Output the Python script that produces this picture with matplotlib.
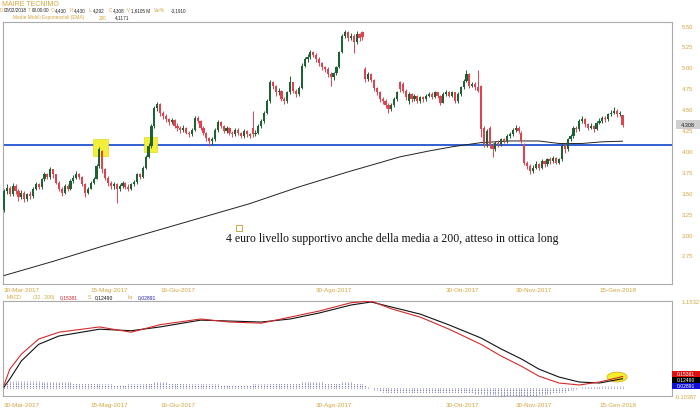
import numpy as np
import matplotlib
matplotlib.use("Agg")
import matplotlib.pyplot as plt
from matplotlib.patches import Rectangle, Ellipse

# ---------------- data ----------------
opens = [3.30, 3.52, 3.56, 3.48, 3.58, 3.52, 3.45, 3.50, 3.42, 3.48,
         3.46, 3.55, 3.60, 3.57, 3.66, 3.72, 3.69, 3.78, 3.72, 3.62,
         3.55, 3.50, 3.58, 3.54, 3.64, 3.68, 3.73, 3.69, 3.61, 3.50,
         3.55, 3.62, 3.67, 3.82, 4.00, 3.78, 3.68, 3.62, 3.58, 3.61,
         3.55, 3.58, 3.62, 3.57, 3.55, 3.60, 3.63, 3.72, 3.69, 3.80,
         3.93, 4.06, 4.30, 4.52, 4.56, 4.45, 4.42, 4.38, 4.35, 4.37,
         4.30, 4.28, 4.25, 4.28, 4.22, 4.20, 4.25, 4.40, 4.36, 4.28,
         4.22, 4.15, 4.12, 4.14, 4.25, 4.35, 4.30, 4.24, 4.28, 4.22,
         4.20, 4.25, 4.22, 4.18, 4.24, 4.20, 4.28, 4.20, 4.22, 4.30,
         4.36, 4.46, 4.60, 4.82, 4.78, 4.70, 4.72, 4.62, 4.60, 4.70,
         4.82, 4.72, 4.68, 4.75, 5.02, 5.10, 5.12, 5.18, 5.15, 5.10,
         5.05, 5.00, 4.98, 4.92, 4.88, 4.93, 5.00, 5.18, 5.38, 5.42,
         5.35, 5.38, 5.30, 5.40, 5.42, 4.98, 4.86, 4.92, 4.85, 4.75,
         4.70, 4.62, 4.60, 4.55, 4.50, 4.55, 4.62, 4.82, 4.80, 4.72,
         4.60, 4.68, 4.62, 4.66, 4.60, 4.64, 4.62, 4.66, 4.68, 4.65,
         4.70, 4.66, 4.58, 4.68, 4.70, 4.66, 4.70, 4.60, 4.68, 4.76,
         4.84, 4.92, 4.78, 4.80, 4.76, 4.78, 4.28, 4.08, 4.28, 4.06,
         4.02, 4.10, 4.08, 4.14, 4.12, 4.18, 4.20, 4.25, 4.28, 4.22,
         4.08, 3.86, 3.82, 3.76, 3.80, 3.85, 3.80, 3.88, 3.84, 3.90,
         3.88, 3.92, 3.86, 3.90, 4.06, 4.02, 4.14, 4.18, 4.28, 4.26,
         4.36, 4.38, 4.32, 4.28, 4.30, 4.26, 4.34, 4.36, 4.40, 4.38,
         4.44, 4.46, 4.48, 4.44, 4.43]
highs = [3.54, 3.60, 3.58, 3.62, 3.60, 3.54, 3.53, 3.52, 3.50, 3.52,
         3.57, 3.63, 3.62, 3.68, 3.75, 3.74, 3.81, 3.79, 3.73, 3.64,
         3.57, 3.60, 3.60, 3.66, 3.71, 3.76, 3.74, 3.70, 3.62, 3.57,
         3.64, 3.69, 3.84, 4.05, 4.01, 3.80, 3.70, 3.64, 3.63, 3.62,
         3.60, 3.64, 3.63, 3.60, 3.62, 3.65, 3.74, 3.74, 3.82, 3.95,
         4.09, 4.32, 4.54, 4.59, 4.57, 4.48, 4.44, 4.40, 4.40, 4.38,
         4.33, 4.30, 4.31, 4.29, 4.24, 4.27, 4.42, 4.42, 4.37, 4.30,
         4.23, 4.17, 4.17, 4.27, 4.37, 4.36, 4.31, 4.30, 4.29, 4.24,
         4.27, 4.27, 4.23, 4.26, 4.25, 4.22, 4.48, 4.25, 4.32, 4.38,
         4.48, 4.62, 4.85, 4.84, 4.79, 4.75, 4.73, 4.64, 4.72, 4.90,
         4.83, 4.74, 4.78, 5.05, 5.13, 5.16, 5.21, 5.20, 5.17, 5.12,
         5.07, 5.02, 5.00, 4.94, 4.95, 5.02, 5.20, 5.40, 5.45, 5.43,
         5.41, 5.40, 5.43, 5.41, 5.44, 5.00, 4.95, 4.93, 4.86, 4.77,
         4.72, 4.65, 4.62, 4.57, 4.57, 4.64, 4.72, 4.84, 4.82, 4.74,
         4.70, 4.69, 4.68, 4.67, 4.66, 4.66, 4.68, 4.71, 4.70, 4.72,
         4.71, 4.67, 4.70, 4.73, 4.72, 4.72, 4.71, 4.70, 4.78, 4.86,
         4.97, 4.93, 4.83, 4.82, 4.97, 4.79, 4.30, 4.26, 4.30, 4.10,
         4.12, 4.13, 4.16, 4.16, 4.20, 4.23, 4.27, 4.31, 4.30, 4.24,
         4.10, 3.88, 3.84, 3.83, 3.88, 3.86, 3.90, 3.89, 3.92, 3.93,
         3.94, 3.93, 3.92, 4.08, 4.10, 4.16, 4.20, 4.30, 4.30, 4.38,
         4.42, 4.39, 4.34, 4.33, 4.31, 4.36, 4.39, 4.42, 4.42, 4.46,
         4.49, 4.53, 4.50, 4.48, 4.43]
lows = [3.27, 3.48, 3.46, 3.46, 3.48, 3.40, 3.42, 3.39, 3.40, 3.43,
        3.44, 3.53, 3.54, 3.55, 3.64, 3.66, 3.67, 3.68, 3.60, 3.52,
        3.46, 3.48, 3.52, 3.53, 3.62, 3.66, 3.66, 3.58, 3.45, 3.48,
        3.54, 3.60, 3.66, 3.80, 3.74, 3.65, 3.58, 3.55, 3.54, 3.38,
        3.52, 3.56, 3.55, 3.52, 3.53, 3.58, 3.61, 3.66, 3.68, 3.78,
        3.92, 4.04, 4.28, 4.48, 4.42, 4.38, 4.35, 4.31, 4.32, 4.27,
        4.24, 4.22, 4.23, 4.20, 4.17, 4.18, 4.24, 4.33, 4.25, 4.19,
        4.12, 4.06, 4.07, 4.12, 4.23, 4.27, 4.21, 4.22, 4.19, 4.17,
        4.18, 4.19, 4.15, 4.16, 4.17, 4.15, 4.17, 4.18, 4.20, 4.28,
        4.34, 4.44, 4.58, 4.74, 4.66, 4.67, 4.60, 4.56, 4.58, 4.68,
        4.69, 4.65, 4.66, 4.74, 5.00, 5.07, 5.10, 5.12, 5.07, 5.02,
        4.97, 4.94, 4.89, 4.78, 4.85, 4.91, 4.99, 5.17, 5.35, 5.32,
        5.33, 5.17, 5.28, 5.32, 5.33, 4.82, 4.84, 4.82, 4.72, 4.67,
        4.59, 4.56, 4.52, 4.46, 4.48, 4.53, 4.60, 4.71, 4.69, 4.61,
        4.56, 4.59, 4.60, 4.57, 4.58, 4.59, 4.60, 4.64, 4.62, 4.63,
        4.63, 4.55, 4.57, 4.66, 4.64, 4.64, 4.57, 4.58, 4.66, 4.74,
        4.82, 4.75, 4.76, 4.73, 4.70, 4.17, 4.05, 4.05, 4.03, 3.93,
        4.00, 4.05, 4.06, 4.09, 4.10, 4.16, 4.18, 4.23, 4.21, 4.09,
        3.83, 3.78, 3.72, 3.74, 3.78, 3.77, 3.78, 3.81, 3.82, 3.85,
        3.86, 3.84, 3.84, 3.88, 3.98, 4.00, 4.12, 4.16, 4.23, 4.24,
        4.33, 4.29, 4.25, 4.26, 4.23, 4.25, 4.32, 4.34, 4.35, 4.36,
        4.42, 4.44, 4.41, 4.42, 4.292]
closes = [3.52, 3.56, 3.48, 3.58, 3.52, 3.45, 3.50, 3.42, 3.48, 3.46,
          3.55, 3.60, 3.57, 3.66, 3.72, 3.69, 3.78, 3.72, 3.62, 3.55,
          3.50, 3.58, 3.54, 3.64, 3.68, 3.73, 3.69, 3.61, 3.50, 3.55,
          3.62, 3.67, 3.82, 4.02, 3.78, 3.68, 3.62, 3.58, 3.61, 3.55,
          3.58, 3.62, 3.57, 3.55, 3.60, 3.63, 3.72, 3.69, 3.80, 3.93,
          4.06, 4.30, 4.52, 4.56, 4.45, 4.42, 4.38, 4.35, 4.37, 4.30,
          4.28, 4.25, 4.28, 4.22, 4.20, 4.25, 4.40, 4.36, 4.28, 4.22,
          4.15, 4.12, 4.14, 4.25, 4.35, 4.30, 4.24, 4.28, 4.22, 4.20,
          4.25, 4.22, 4.18, 4.24, 4.20, 4.18, 4.20, 4.22, 4.30, 4.36,
          4.46, 4.60, 4.82, 4.78, 4.70, 4.72, 4.62, 4.60, 4.70, 4.82,
          4.72, 4.68, 4.75, 5.02, 5.10, 5.12, 5.18, 5.15, 5.10, 5.05,
          5.00, 4.98, 4.92, 4.88, 4.93, 5.00, 5.18, 5.38, 5.42, 5.35,
          5.38, 5.30, 5.40, 5.35, 5.36, 4.86, 4.92, 4.85, 4.75, 4.70,
          4.62, 4.60, 4.55, 4.50, 4.55, 4.62, 4.70, 4.74, 4.72, 4.64,
          4.68, 4.62, 4.66, 4.60, 4.64, 4.62, 4.66, 4.68, 4.65, 4.70,
          4.66, 4.58, 4.68, 4.70, 4.66, 4.70, 4.60, 4.68, 4.76, 4.84,
          4.92, 4.78, 4.80, 4.76, 4.72, 4.26, 4.08, 4.24, 4.06, 4.02,
          4.10, 4.08, 4.14, 4.12, 4.18, 4.20, 4.25, 4.28, 4.24, 4.12,
          3.86, 3.82, 3.76, 3.80, 3.85, 3.80, 3.88, 3.84, 3.90, 3.88,
          3.92, 3.86, 3.90, 4.06, 4.02, 4.14, 4.18, 4.28, 4.26, 4.36,
          4.38, 4.32, 4.28, 4.30, 4.26, 4.34, 4.36, 4.40, 4.38, 4.44,
          4.46, 4.48, 4.44, 4.45, 4.308]

# EMA 200 (bar index, value)
ema_idx = [0, 17, 34, 51, 68, 85, 102, 119, 137, 147, 155, 165, 175, 185, 192, 200, 207, 214]
ema_val = [2.51, 2.68, 2.86, 3.03, 3.20, 3.37, 3.57, 3.75, 3.93, 4.00, 4.05, 4.10, 4.12, 4.12, 4.09, 4.09, 4.11, 4.1171]

support_level = 4.07

# MACD (32, 200), signal line (bar index, value) and histogram (one per bar)
macd_idx = [0, 2, 6, 12, 19, 33, 44, 54, 68, 78, 89, 99, 109, 120, 127, 134, 144, 154, 165, 172, 179, 185, 192, 199, 206, 214]
macd_val = [0.04, 0.25, 0.45, 0.65, 0.74, 0.81, 0.74, 0.84, 0.915, 0.875, 0.86, 0.94, 1.02, 1.13, 1.153, 1.05,
            0.94, 0.78, 0.58, 0.425, 0.29, 0.16, 0.068, 0.042, 0.081, 0.15381]
signal_val = [0.015, 0.12, 0.36, 0.58, 0.69, 0.78, 0.76, 0.81, 0.90, 0.888, 0.875, 0.915, 0.994, 1.10, 1.14, 1.074,
              0.98, 0.836, 0.664, 0.518, 0.386, 0.253, 0.147, 0.081, 0.068, 0.1249]
hist_val = [0.04, 0.07, 0.09, 0.10, 0.10, 0.10, 0.10, 0.10, 0.10, 0.09,
            0.09, 0.09, 0.09, 0.08, 0.08, 0.08, 0.08, 0.08, 0.08, 0.08,
            0.08, 0.08, 0.08, 0.08, 0.07, 0.07, 0.07, 0.07, 0.07, 0.07,
            0.07, 0.07, 0.07, 0.06, 0.06, 0.05, 0.05, 0.05, 0.04, 0.04,
            0.04, 0.04, 0.04, 0.05, 0.05, 0.05, 0.06, 0.06, 0.06, 0.07,
            0.07, 0.07, 0.08, 0.08, 0.08, 0.08, 0.08, 0.07, 0.07, 0.07,
            0.07, 0.07, 0.07, 0.07, 0.06, 0.06, 0.06, 0.06, 0.06, 0.06,
            0.05, 0.05, 0.05, 0.05, 0.05, 0.04, 0.04, 0.04, 0.04, 0.04,
            0.04, 0.04, 0.04, 0.04, 0.04, 0.04, 0.05, 0.05, 0.05, 0.05,
            0.06, 0.06, 0.07, 0.07, 0.07, 0.07, 0.07, 0.07, 0.07, 0.07,
            0.07, 0.07, 0.07, 0.08, 0.08, 0.08, 0.08, 0.08, 0.08, 0.08,
            0.08, 0.07, 0.07, 0.07, 0.07, 0.07, 0.07, 0.08, 0.08, 0.08,
            0.08, 0.07, 0.07, 0.06, 0.05, 0.04, 0.02, 0.00, -0.02, -0.03,
            -0.04, -0.05, -0.05, -0.06, -0.06, -0.06, -0.07, -0.07, -0.07, -0.07,
            -0.07, -0.07, -0.07, -0.07, -0.07, -0.07, -0.07, -0.07, -0.07, -0.07,
            -0.07, -0.07, -0.07, -0.07, -0.07, -0.07, -0.07, -0.07, -0.07, -0.07,
            -0.07, -0.07, -0.07, -0.08, -0.08, -0.08, -0.09, -0.09, -0.09, -0.09,
            -0.09, -0.09, -0.10, -0.10, -0.10, -0.10, -0.10, -0.10, -0.10, -0.10,
            -0.10, -0.10, -0.10, -0.10, -0.10, -0.09, -0.09, -0.09, -0.08, -0.08,
            -0.07, -0.07, -0.06, -0.05, -0.05, -0.04, -0.03, -0.02, -0.01, 0.00,
            0.01, 0.01, 0.02, 0.02, 0.02, 0.02, 0.02, 0.03, 0.03, 0.03,
            0.03, 0.03, 0.03, 0.03, 0.02891]

date_pos = [0, 30, 54, 108, 153, 177, 206]
date_labels = ["30-Mar-2017", "15-Mag-2017", "16-Giu-2017", "30-Ago-2017",
               "30-Ott-2017", "30-Nov-2017", "15-Gen-2018"]
price_ticks = [2.75, 3.00, 3.25, 3.50, 3.75, 4.00, 4.25, 4.50, 4.75, 5.00, 5.25, 5.50]
last_close = 4.308
macd_last, signal_last, hist_last = 0.15381, 0.12490, 0.02891
macd_min, macd_max = -0.10387, 1.1532

# ---------------- style ----------------
GOLD = "#d3a53e"
UP = "#1c6232"
DOWN = "#e2424f"
FRAME = "#aaaaaa"
plt.rcParams["font.family"] = ["Liberation Sans", "DejaVu Sans"]

W, H = 700, 414
fig = plt.figure(figsize=(7, 4.14), dpi=100)
fig.patch.set_facecolor("white")


def fx(px):
    return px / W


def fy(py):
    return 1 - py / H


ax = fig.add_axes([fx(3), fy(285), fx(672) - fx(3), fy(23) - fy(285)])
axm = fig.add_axes([fx(3), fy(397), fx(672) - fx(3), fy(302) - fy(397)], sharex=ax)

n = len(closes)
idx = np.arange(n)
o = np.array(opens)
c = np.array(closes)
hi = np.array(highs)
lo = np.array(lows)
up = c >= o
cols = np.where(up, UP, DOWN)

# candles
ax.vlines(idx, lo, hi, colors=cols, linewidth=0.7, zorder=4)
body_bottom = np.minimum(o, c)
body_h = np.maximum(np.abs(c - o), 0.008)
ax.bar(idx, body_h, bottom=body_bottom, width=0.75, color=cols, linewidth=0, zorder=5)

# EMA 200
ax.plot(ema_idx, ema_val, color="#222222", linewidth=0.7, zorder=3)

# support line
ax.axhline(support_level, color="#2f5fd3", linewidth=1.4, zorder=2)

# highlight boxes on the touches of the level
for (x0, x1, y0, y1) in [(30.8, 36.0, 3.94, 4.145), (48.4, 52.9, 3.99, 4.167)]:
    ax.add_patch(Rectangle((x0, y0), x1 - x0, y1 - y0, facecolor="#f3ee3a",
                           edgecolor="#e6d62a", linewidth=0.5, zorder=3))

ax.set_xlim(-0.35, 231.1)
ax.set_ylim(2.409, 5.543)

ax.yaxis.tick_right()
ax.set_yticks(price_ticks)
ax.set_yticklabels([f"{t:.2f}" for t in price_ticks])
ax.tick_params(axis="y", length=0, pad=7, labelsize=4.2, labelcolor=GOLD)
ax.set_xticks(date_pos)
ax.set_xticklabels(date_labels)
ax.tick_params(axis="x", length=0, pad=2, labelsize=4.5, labelcolor=GOLD, labelbottom=True)
for lab in ax.get_xticklabels():
    lab.set_ha("left")
for s in ax.spines.values():
    s.set_color(FRAME)
    s.set_linewidth(0.8)

# last price box
fig.patches.append(Rectangle((fx(676), fy(130)), fx(700) - fx(676), fy(121) - fy(130),
                             transform=fig.transFigure, facecolor="#cfcfcf", edgecolor="none"))
fig.text(fx(688), fy(125.5), f"{last_close:.3f}", fontsize=4.0, color="#222222",
         ha="center", va="center")

# ---------------- MACD panel ----------------
axm.vlines(idx, 0, hist_val, colors="#3d3db5", linewidth=0.6,
           linestyles=(0, (1, 1)), zorder=2)
axm.add_patch(Ellipse((212.1, 0.147), 6.9, 0.13, facecolor="#f5ef2a",
                      edgecolor="#d9b225", linewidth=0.6, zorder=3))
axm.plot(macd_idx, signal_val, color="#111111", linewidth=0.8, zorder=4)
axm.plot(macd_idx, macd_val, color="#d42a2a", linewidth=0.8, zorder=5)
axm.set_ylim(macd_min, macd_max)
axm.set_yticks([])
axm.tick_params(axis="x", length=0, pad=4, labelsize=4.5, labelcolor=GOLD)
for lab in axm.get_xticklabels():
    lab.set_ha("left")
for s in axm.spines.values():
    s.set_color(FRAME)
    s.set_linewidth(0.8)

# scale limits of the MACD panel
fig.text(fx(682), fy(302), f"{macd_max:.4f}", fontsize=4.2, color=GOLD, ha="left", va="center")
fig.text(fx(675), fy(398), f"{macd_min:.5f}", fontsize=4.0, color=GOLD, ha="left", va="center")

# value boxes at the right of the MACD panel
for (val, col, ytop) in [(macd_last, "#e01010", 372), (signal_last, "#000000", 378),
                         (hist_last, "#1010d8", 384)]:
    fig.patches.append(Rectangle((fx(672), fy(ytop + 6)), fx(700) - fx(672), fy(ytop) - fy(ytop + 6),
                                 transform=fig.transFigure, facecolor=col, edgecolor="none"))
    fig.text(fx(686), fy(ytop + 3), f"{val:.5f}", fontsize=3.6, color="white",
             ha="center", va="center")

# ---------------- header texts ----------------
fig.text(fx(2), fy(4), "MAIRE TECNIMO", fontsize=5.0, color=GOLD, ha="left", va="center")

line2 = [("D", 0, GOLD), ("02/02/2018", 4, "#222222"), ("T", 28, GOLD), ("00.00.00", 32, "#222222"),
         ("O", 51, GOLD), ("4,430", 55, "#222222"), ("H", 70, GOLD), ("4,430", 74, "#222222"),
         ("L", 89, GOLD), ("4,292", 93, "#222222"), ("C", 109, GOLD), ("4,308", 113, "#222222"),
         ("V", 127, GOLD), ("1,6105 M", 131, "#222222"), ("Var%", 154, GOLD), ("-3,1910", 171, "#222222")]
for txt, px, col in line2:
    fig.text(fx(px), fy(11), txt, fontsize=3.3, color=col, ha="left", va="center")

line3 = [("Medie Mobili Esponenziali (EMA)", 13, GOLD), ("200", 99, GOLD), ("4,1171", 115, "#222222")]
for txt, px, col in line3:
    fig.text(fx(px), fy(18), txt, fontsize=3.4, color=col, ha="left", va="center")

macd_head = [("MACD", 7, GOLD), ("(32 , 200)", 33, GOLD), ("0,15381", 60, "#d42a2a"),
             ("S", 88, GOLD), ("0,12490", 95, "#111111"), ("Ist", 127, GOLD), ("0,02891", 138, "#2020b0")]
for txt, px, col in macd_head:
    fig.text(fx(px), fy(298), txt, fontsize=3.6, color=col, ha="left", va="center")

# comment on the chart
fig.patches.append(Rectangle((fx(236), fy(232)), fx(6), 6 / H, transform=fig.transFigure,
                             facecolor="none", edgecolor="#c9962e", linewidth=0.6))
fig.text(fx(226), fy(239), "4 euro livello supportivo anche della media a 200, atteso in ottica long",
         fontsize=8.5, family=["Liberation Serif", "DejaVu Serif"], color="#111111",
         ha="left", va="center")

fig.savefig("out.png", dpi=100)
